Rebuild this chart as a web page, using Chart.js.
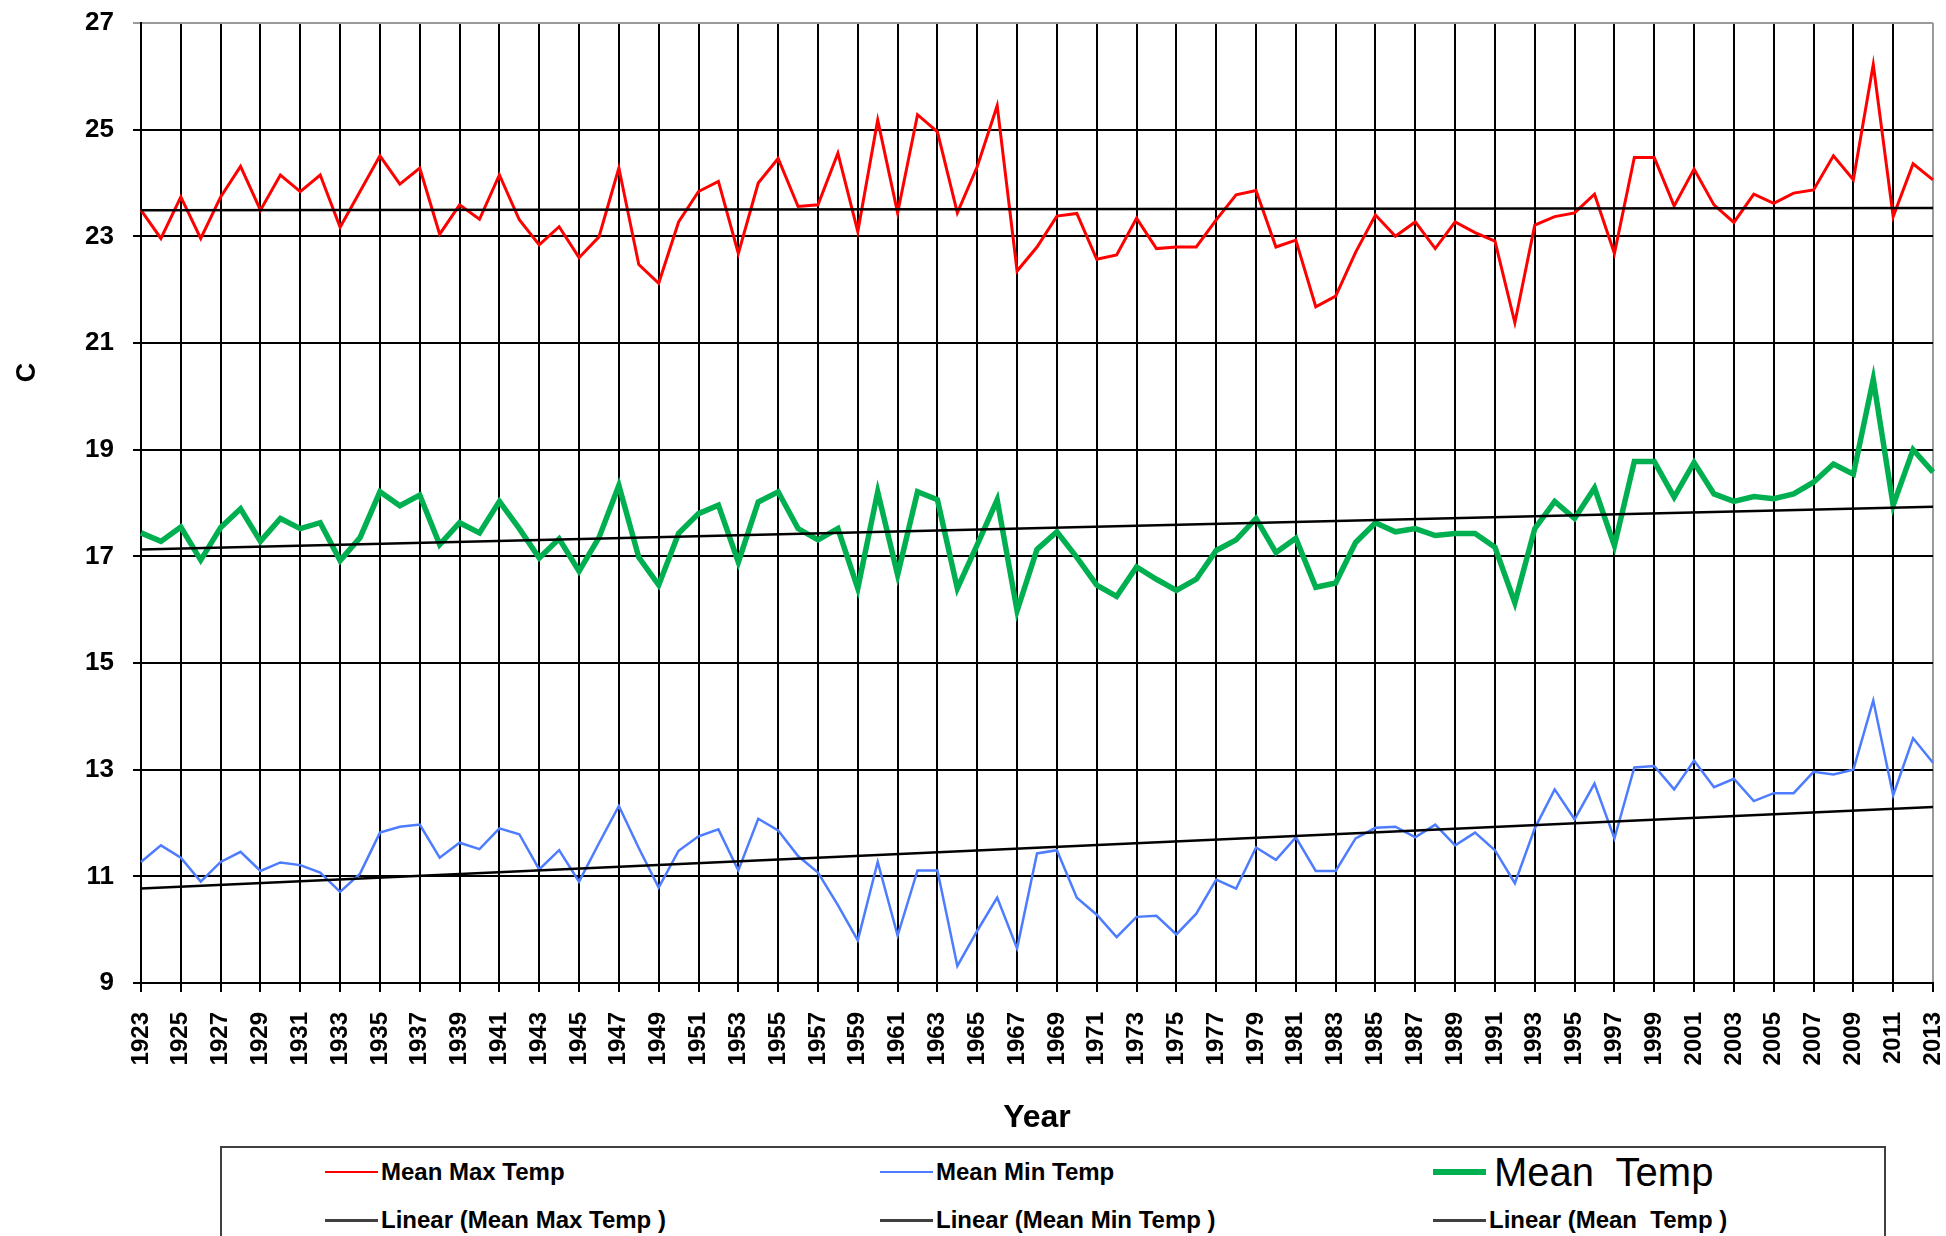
<!DOCTYPE html>
<html>
<head>
<meta charset="utf-8">
<title>Mean temperatures 1923-2013</title>
<script src="https://cdn.jsdelivr.net/npm/chart.js@4.4.1/dist/chart.umd.min.js"></script>
<style>
  body { margin: 0; background: #fff; overflow: hidden; }
  #wrap { position: relative; width: 1946px; height: 1236px; }
  #legend {
    position: absolute; left: 220px; top: 1146px; width: 1666px; height: 120px;
    border: 2px solid #404040; box-sizing: border-box; background: #fff;
    display: grid; grid-template-columns: 555px 553px auto; grid-auto-rows: 48px;
    padding-left: 103px; font-family: "Liberation Sans", Arial, sans-serif; color: #000;
  }
  .item { display: flex; align-items: center; white-space: pre; }
  .swatch { width: 53px; margin-right: 3px; }
</style>
</head>
<body>
<div id="wrap">
  <canvas id="myChart" width="1946" height="1236"></canvas>
  <div id="legend"></div>
</div>
<script>
// years on the category axis
var years = [1923,1924,1925,1926,1927,1928,1929,1930,1931,1932,1933,1934,1935,1936,1937,1938,1939,1940,
  1941,1942,1943,1944,1945,1946,1947,1948,1949,1950,1951,1952,1953,1954,1955,1956,1957,1958,1959,1960,
  1961,1962,1963,1964,1965,1966,1967,1968,1969,1970,1971,1972,1973,1974,1975,1976,1977,1978,1979,1980,
  1981,1982,1983,1984,1985,1986,1987,1988,1989,1990,1991,1992,1993,1994,1995,1996,1997,1998,1999,2000,
  2001,2002,2003,2004,2005,2006,2007,2008,2009,2010,2011,2012,2013];

var maxTemp = [23.49,22.96,23.74,22.96,23.74,24.31,23.49,24.15,23.84,24.15,23.17,23.84,24.51,23.98,24.28,23.04,23.59,23.32,
  24.15,23.31,22.84,23.18,22.60,22.99,24.28,22.47,22.12,23.27,23.84,24.03,22.68,24.00,24.46,23.56,23.59,24.56,23.09,25.18,
  23.44,25.28,24.96,23.44,24.31,25.45,22.35,22.80,23.38,23.43,22.57,22.65,23.34,22.77,22.80,22.80,23.31,23.78,23.86,22.80,
  22.93,21.68,21.88,22.70,23.40,23.00,23.27,22.77,23.27,23.07,22.91,21.38,23.21,23.37,23.44,23.79,22.68,24.48,24.48,23.57,
  24.26,23.59,23.26,23.79,23.62,23.81,23.87,24.51,24.06,26.22,23.37,24.36,24.06];

var minTemp = [11.27,11.58,11.35,10.90,11.27,11.46,11.10,11.26,11.21,11.07,10.71,11.05,11.82,11.93,11.97,11.35,11.63,11.51,
  11.90,11.79,11.13,11.49,10.90,11.62,12.32,11.53,10.79,11.48,11.75,11.88,11.11,12.08,11.86,11.38,11.07,10.46,9.80,11.27,
  9.89,11.11,11.11,9.32,9.98,10.60,9.65,11.43,11.49,10.60,10.28,9.86,10.24,10.26,9.91,10.30,10.94,10.77,11.54,11.31,
  11.73,11.10,11.10,11.71,11.91,11.93,11.73,11.97,11.58,11.82,11.49,10.87,11.90,12.63,12.07,12.74,11.71,13.04,13.07,12.63,
  13.17,12.67,12.83,12.41,12.56,12.56,12.96,12.91,13.00,14.30,12.52,13.59,13.13];

var meanTemp = [17.44,17.28,17.55,16.93,17.54,17.89,17.28,17.71,17.52,17.63,16.92,17.35,18.21,17.95,18.15,17.22,17.63,17.44,
  18.03,17.52,16.97,17.33,16.72,17.35,18.33,16.98,16.46,17.43,17.80,17.96,16.89,18.02,18.21,17.52,17.31,17.52,16.40,18.21,
  16.65,18.21,18.06,16.40,17.22,18.06,15.98,17.13,17.46,16.98,16.46,16.25,16.80,16.57,16.36,16.57,17.11,17.31,17.71,17.07,
  17.34,16.42,16.50,17.26,17.63,17.46,17.52,17.39,17.43,17.43,17.17,16.13,17.52,18.03,17.71,18.28,17.20,18.78,18.78,18.11,
  18.76,18.17,18.03,18.12,18.08,18.17,18.39,18.73,18.54,20.32,17.96,19.00,18.58];

// linear trend lines, value at first and last year
var trendYears = ["1923", "2013"];
var maxTrend = [23.49, 23.53];
var minTrend = [10.77, 12.30];
var meanTrend = [17.13, 17.93];

var yTicks = [9, 27, 2]; // min, max, step

var labels = years.map(String);
function trendPoints(vals) {
  return vals.map(function (v, i) { return { x: trendYears[i], y: v }; });
}

var font = '"Liberation Sans", Arial, sans-serif';

// trend lines first so they are drawn on top
var datasets = [
  { label: "Linear (Mean Max Temp )", data: trendPoints(maxTrend), borderColor: "#000", borderWidth: 2.5 },
  { label: "Linear (Mean Min Temp )", data: trendPoints(minTrend), borderColor: "#000", borderWidth: 2.5 },
  { label: "Linear (Mean  Temp )", data: trendPoints(meanTrend), borderColor: "#000", borderWidth: 2.5 },
  { label: "Mean Max Temp", data: maxTemp, borderColor: "#ff0000", borderWidth: 3 },
  { label: "Mean Min Temp", data: minTemp, borderColor: "#4d7cff", borderWidth: 2.5 },
  { label: "Mean  Temp", data: meanTemp, borderColor: "#00b050", borderWidth: 5.5 }
];
datasets.forEach(function (d) {
  d.pointRadius = 0;
  d.tension = 0;
  d.fill = false;
  d.borderJoinStyle = "miter";
});

// rotated "C" title, sits higher than the middle of the axis like the original
var yTitle = {
  id: "yTitle",
  afterDraw: function (chart) {
    var ctx = chart.ctx;
    var area = chart.chartArea;
    ctx.save();
    ctx.translate(28, area.top + (area.bottom - area.top) * 0.364);
    ctx.rotate(-Math.PI / 2);
    ctx.font = "bold 27px " + font;
    ctx.fillStyle = "#000";
    ctx.textAlign = "center";
    ctx.textBaseline = "middle";
    ctx.fillText("C", 0, 0);
    ctx.restore();
  }
};

new Chart("myChart", {
  type: "line",
  data: { labels: labels, datasets: datasets },
  plugins: [yTitle],
  options: {
    responsive: false,
    animation: false,
    devicePixelRatio: 1,
    layout: { padding: { top: 23, right: 13, bottom: 95, left: 0 } },
    plugins: { legend: { display: false }, tooltip: { enabled: false } },
    scales: {
      x: {
        type: "category",
        offset: false,
        grid: {
          lineWidth: 2,
          tickLength: 9,
          color: function (c) {
            if (c.index % 2 !== 0) return "rgba(0,0,0,0)";
            return c.index === years.length - 1 ? "#9a9a9a" : "#000";
          },
          tickColor: function (c) { return c.index % 2 === 0 ? "#000" : "rgba(0,0,0,0)"; }
        },
        border: { color: "#000", width: 2 },
        ticks: {
          autoSkip: false,
          minRotation: 90,
          maxRotation: 90,
          padding: 20,
          color: "#000",
          font: { family: font, weight: "bold", size: 24 },
          callback: function (v, i) { return i % 2 === 0 ? this.getLabelForValue(v) : ""; }
        },
        title: { display: true, text: "Year", color: "#000", font: { family: font, weight: "bold", size: 32 } },
        afterFit: function (s) {
          s.height = 158;
          s.paddingLeft = 0;
          s.paddingRight = 0;
        }
      },
      y: {
        min: yTicks[0],
        max: yTicks[1],
        grid: {
          lineWidth: 2,
          tickLength: 8,
          color: function (c) { return c.tick && c.tick.value === yTicks[1] ? "#9a9a9a" : "#000"; }
        },
        border: { color: "#000", width: 2 },
        ticks: {
          stepSize: yTicks[2],
          padding: 19,
          color: "#000",
          font: { family: font, weight: "bold", size: 26 }
        },
        afterFit: function (s) {
          s.width = 141;
          s.paddingTop = 0;
          s.paddingBottom = 0;
        }
      }
    }
  }
});

// legend box under the chart, rows: series then their trend lines
var legendOrder = [
  { label: "Mean Max Temp", color: "#ff0000", h: 2, size: 24, bold: true },
  { label: "Mean Min Temp", color: "#4d7cff", h: 2, size: 24, bold: true },
  { label: "Mean  Temp", color: "#00b050", h: 6, size: 40, bold: false },
  { label: "Linear (Mean Max Temp )", color: "#404040", h: 3, size: 24, bold: true },
  { label: "Linear (Mean Min Temp )", color: "#404040", h: 3, size: 24, bold: true },
  { label: "Linear (Mean  Temp )", color: "#404040", h: 3, size: 24, bold: true }
];
var legend = document.getElementById("legend");
legendOrder.forEach(function (it) {
  var div = document.createElement("div");
  div.className = "item";
  div.innerHTML = '<span class="swatch" style="height:' + it.h + 'px;background:' + it.color + '"></span>' +
    '<span style="font-size:' + it.size + 'px;font-weight:' + (it.bold ? "bold" : "normal") +
    (it.size > 30 ? ';margin-left:5px' : '') + '">' + it.label + '</span>';
  legend.appendChild(div);
});
</script>
</body>
</html>
